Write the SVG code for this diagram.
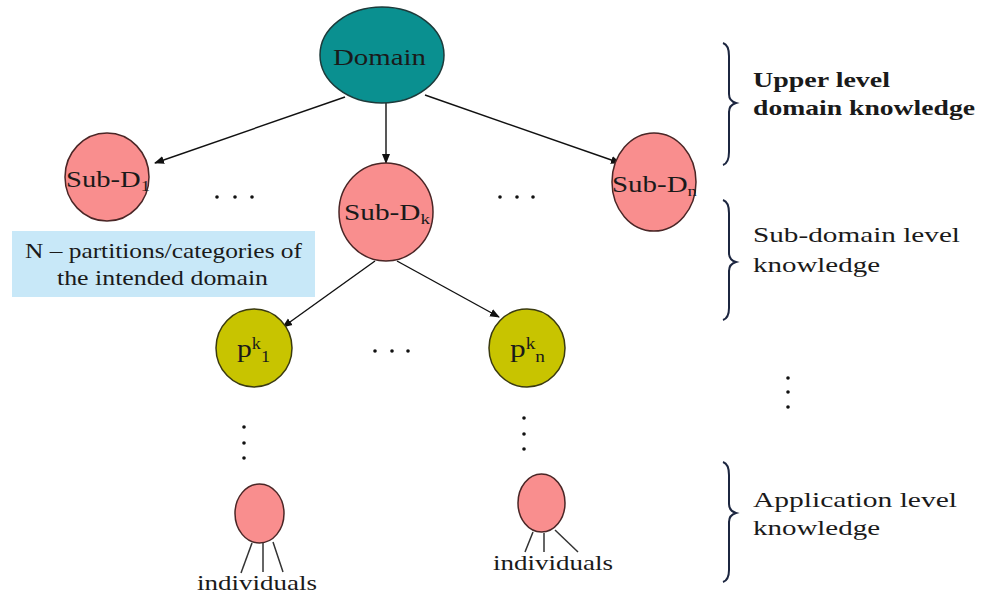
<svg xmlns="http://www.w3.org/2000/svg" width="981" height="596" viewBox="0 0 981 596">
<style>
text{font-family:'Liberation Serif','Times New Roman',Times,serif;fill:#1a1a1a}
.pink{fill:#F98E8E;stroke:#4a2626;stroke-width:1.5}
.edge{stroke:#111;stroke-width:1.4;fill:none;marker-end:url(#ah)}
.brace{stroke:#1c2640;stroke-width:2;fill:none}
.leg{stroke:#333;stroke-width:1.5}
.dot{fill:#111}
</style>
<defs>
<marker id="ah" viewBox="0 0 10 10" refX="9" refY="5" markerWidth="10" markerHeight="10" markerUnits="userSpaceOnUse" orient="auto">
<path d="M0,1 L10,5 L0,9 z" fill="#111"/>
</marker>
</defs>
<rect width="981" height="596" fill="#fff"/>

<g id="connectors">
<line class="edge" x1="345" y1="97" x2="155" y2="163"/>
<line class="edge" x1="386" y1="103" x2="386" y2="163"/>
<line class="edge" x1="425" y1="95" x2="620" y2="163"/>
<line class="edge" x1="375" y1="261" x2="283" y2="327"/>
<line class="edge" x1="397" y1="261" x2="499" y2="317"/>
</g>

<g font-family="Liberation Serif, serif">
<g id="domain">
<ellipse cx="382" cy="55" rx="62" ry="48" fill="#0A9090" stroke="#1c3a3a" stroke-width="1.5"/>
<text x="333" y="65" font-size="24" textLength="93" lengthAdjust="spacingAndGlyphs">Domain</text>
</g>

<g id="sub-d1">
<ellipse class="pink" cx="107" cy="177" rx="42" ry="44"/>
<text x="66" y="187" font-size="23" textLength="84" lengthAdjust="spacingAndGlyphs">Sub-D<tspan font-size="15" dy="4">1</tspan></text>
</g>

<g id="sub-dk">
<ellipse class="pink" cx="386" cy="212" rx="47" ry="49"/>
<text x="344" y="220" font-size="23" textLength="86" lengthAdjust="spacingAndGlyphs">Sub-D<tspan font-size="15" dy="4">k</tspan></text>
</g>

<g id="sub-dn">
<ellipse class="pink" cx="654" cy="182" rx="42" ry="49"/>
<text x="612" y="192" font-size="23" textLength="85" lengthAdjust="spacingAndGlyphs">Sub-D<tspan font-size="15" dy="4">n</tspan></text>
</g>

<g id="note">
<rect x="12" y="231" width="303" height="66" fill="#C8E8F8"/>
<text x="25" y="258" font-size="21" textLength="277" lengthAdjust="spacingAndGlyphs">N – partitions/categories of</text>
<text x="57" y="285" font-size="21" textLength="211" lengthAdjust="spacingAndGlyphs">the intended domain</text>
</g>

<g id="pk1">
<ellipse cx="254" cy="348" rx="38" ry="39" fill="#C8C400" stroke="#3a3a10" stroke-width="1.5"/>
<text x="237" y="357" font-size="26" textLength="33" lengthAdjust="spacingAndGlyphs">p<tspan font-size="16" dy="-8">k</tspan><tspan font-size="16" dy="13">1</tspan></text>
</g>

<g id="pkn">
<ellipse cx="527" cy="348" rx="38" ry="39" fill="#C8C400" stroke="#3a3a10" stroke-width="1.5"/>
<text x="510" y="357" font-size="26" textLength="35" lengthAdjust="spacingAndGlyphs">p<tspan font-size="16" dy="-8">k</tspan><tspan font-size="16" dy="13">n</tspan></text>
</g>

<g id="ind-left">
<ellipse class="pink" cx="259.5" cy="513.5" rx="24.5" ry="29.5"/>
<line class="leg" x1="252" y1="543" x2="241" y2="573"/>
<line class="leg" x1="263" y1="543" x2="263" y2="572"/>
<line class="leg" x1="273" y1="542" x2="283" y2="572"/>
<text x="197" y="590" font-size="21" textLength="120" lengthAdjust="spacingAndGlyphs">individuals</text>
</g>

<g id="ind-right">
<ellipse class="pink" cx="541.5" cy="503" rx="23.5" ry="29"/>
<line class="leg" x1="533" y1="532" x2="525" y2="552"/>
<line class="leg" x1="544" y1="533" x2="544" y2="552"/>
<line class="leg" x1="555" y1="530" x2="578" y2="552"/>
<text x="493" y="570" font-size="21" textLength="120" lengthAdjust="spacingAndGlyphs">individuals</text>
</g>

<g id="level-upper">
<path class="brace" d="M723,43 Q729,45 729,56 L729,94 Q729,101 736,103 Q729,105 729,112 L729,152 Q729,163 723,165"/>
<text x="753" y="87" font-size="22" font-weight="bold" textLength="137" lengthAdjust="spacingAndGlyphs">Upper level</text>
<text x="753" y="115" font-size="22" font-weight="bold" textLength="222" lengthAdjust="spacingAndGlyphs">domain knowledge</text>
</g>

<g id="level-sub">
<path class="brace" d="M723,200 Q729,202 729,213 L729,253 Q729,260 736,262 Q729,264 729,271 L729,308 Q729,318 723,320"/>
<text x="753" y="242" font-size="22" textLength="207" lengthAdjust="spacingAndGlyphs">Sub-domain level</text>
<text x="753" y="272" font-size="22" textLength="127" lengthAdjust="spacingAndGlyphs">knowledge</text>
</g>

<g id="level-app">
<path class="brace" d="M723,462 Q729,464 729,475 L729,504 Q729,511 736,513 Q729,515 729,522 L729,570 Q729,580 723,582"/>
<text x="753" y="507" font-size="22" textLength="204" lengthAdjust="spacingAndGlyphs">Application level</text>
<text x="753" y="535" font-size="22" textLength="127" lengthAdjust="spacingAndGlyphs">knowledge</text>
</g>
</g>

<g id="dots">
<circle class="dot" cx="217" cy="197" r="1.8"/><circle class="dot" cx="235" cy="197" r="1.8"/><circle class="dot" cx="252" cy="197" r="1.8"/>
<circle class="dot" cx="500" cy="197" r="1.8"/><circle class="dot" cx="517" cy="197" r="1.8"/><circle class="dot" cx="533" cy="197" r="1.8"/>
<circle class="dot" cx="375" cy="351" r="1.8"/><circle class="dot" cx="392" cy="351" r="1.8"/><circle class="dot" cx="408" cy="351" r="1.8"/>
<circle class="dot" cx="244" cy="427" r="1.8"/><circle class="dot" cx="244" cy="443" r="1.8"/><circle class="dot" cx="244" cy="458" r="1.8"/>
<circle class="dot" cx="524" cy="418" r="1.8"/><circle class="dot" cx="524" cy="434" r="1.8"/><circle class="dot" cx="524" cy="449" r="1.8"/>
<circle class="dot" cx="788" cy="378" r="1.8"/><circle class="dot" cx="788" cy="392" r="1.8"/><circle class="dot" cx="788" cy="407" r="1.8"/>
</g>
</svg>
